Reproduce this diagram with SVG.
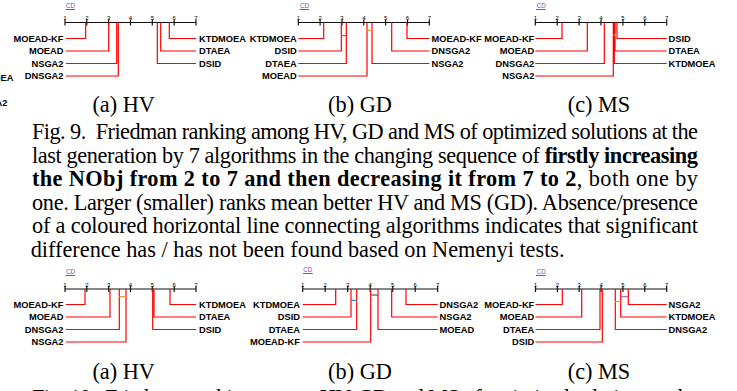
<svg xmlns="http://www.w3.org/2000/svg" width="737" height="391" viewBox="0 0 737 391">
<style>
.lbl{font-family:"Liberation Sans",Arial,sans-serif;font-weight:bold;font-size:9.3px;fill:#000}
.end{text-anchor:end}
.tk{font-family:"Liberation Sans",Arial,sans-serif;font-size:6px;fill:#000;text-anchor:middle}
.cdt{font-family:"Liberation Sans",Arial,sans-serif;font-size:6.3px;fill:#8e44ad}
.cdl{stroke:#8e44ad;stroke-width:1}
.ax{stroke:#111;stroke-width:1.2;fill:none}
.ln{stroke:#ff0000;stroke-width:1.2;fill:none}
.cap{font-family:"Liberation Serif","Times New Roman",serif;font-size:22.3px;fill:#000}
.sub{text-anchor:middle}
.b{font-weight:bold}
</style>

<g id="hv-top">
<text class="cdt" x="66" y="8">CD</text><line class="cdl" x1="65.5" y1="9.5" x2="75" y2="9.5"/>
<path class="ax" d="M65,22.5H196M65,19.5V25.5M86.8,19.5V25.5M108.7,19.5V25.5M130.5,19.5V25.5M152.3,19.5V25.5M174.2,19.5V25.5M196,19.5V25.5"/>
<text class="tk" x="65" y="20">1</text><text class="tk" x="86.8" y="20">2</text><text class="tk" x="108.7" y="20">3</text><text class="tk" x="130.5" y="20">4</text><text class="tk" x="152.3" y="20">5</text><text class="tk" x="174.2" y="20">6</text><text class="tk" x="196" y="20">7</text>
<text class="lbl end" x="63.5" y="41.8">MOEAD-KF</text>
<text class="lbl end" x="63.5" y="54.3">MOEAD</text>
<text class="lbl end" x="63.5" y="66.8">NSGA2</text>
<text class="lbl end" x="63.5" y="79.3">DNSGA2</text>
<text class="lbl" x="199" y="41.8">KTDMOEA</text>
<text class="lbl" x="199" y="54.3">DTAEA</text>
<text class="lbl" x="199" y="66.8">DSID</text>
<text class="lbl end" x="13.5" y="80.5">KTDMOEA</text>
<text class="lbl end" x="7.5" y="106">DNSGA2</text>
</g>

<g id="gd-top">
<text class="cdt" x="300" y="8">CD</text><line class="cdl" x1="299.5" y1="9.5" x2="309" y2="9.5"/>
<path class="ax" d="M298.3,22.5H429.3M298.3,19.5V25.5M320.1,19.5V25.5M342,19.5V25.5M363.8,19.5V25.5M385.6,19.5V25.5M407.5,19.5V25.5M429.3,19.5V25.5"/>
<text class="tk" x="298.3" y="20">1</text><text class="tk" x="320.1" y="20">2</text><text class="tk" x="342" y="20">3</text><text class="tk" x="363.8" y="20">4</text><text class="tk" x="385.6" y="20">5</text><text class="tk" x="407.5" y="20">6</text><text class="tk" x="429.3" y="20">7</text>
<text class="lbl end" x="296.7" y="41.8">KTDMOEA</text>
<text class="lbl end" x="296.7" y="54.3">DSID</text>
<text class="lbl end" x="296.7" y="66.8">DTAEA</text>
<text class="lbl end" x="296.7" y="79.3">MOEAD</text>
<text class="lbl" x="431.5" y="41.8">MOEAD-KF</text>
<text class="lbl" x="431.5" y="54.3">DNSGA2</text>
<text class="lbl" x="431.5" y="66.8">NSGA2</text>
</g>

<g id="ms-top">
<text class="cdt" x="536.7" y="8">CD</text><line class="cdl" x1="536" y1="9.5" x2="545.5" y2="9.5"/>
<path class="ax" d="M535.3,22.5H666.7M535.3,19.5V25.5M557.2,19.5V25.5M579.1,19.5V25.5M601,19.5V25.5M622.9,19.5V25.5M644.8,19.5V25.5M666.7,19.5V25.5"/>
<text class="tk" x="535.3" y="20">1</text><text class="tk" x="557.2" y="20">2</text><text class="tk" x="579.1" y="20">3</text><text class="tk" x="601" y="20">4</text><text class="tk" x="622.9" y="20">5</text><text class="tk" x="644.8" y="20">6</text><text class="tk" x="666.7" y="20">7</text>
<text class="lbl end" x="534.3" y="41.8">MOEAD-KF</text>
<text class="lbl end" x="534.3" y="54.3">MOEAD</text>
<text class="lbl end" x="534.3" y="66.8">DNSGA2</text>
<text class="lbl end" x="534.3" y="79.3">NSGA2</text>
<text class="lbl" x="668.5" y="41.8">DSID</text>
<text class="lbl" x="668.5" y="54.3">DTAEA</text>
<text class="lbl" x="668.5" y="66.8">KTDMOEA</text>
</g>

<g id="hv-bottom">
<text class="cdt" x="66" y="274">CD</text><line class="cdl" x1="65.5" y1="275.5" x2="75" y2="275.5"/>
<path class="ax" d="M65,289H196M65,286V292M86.8,286V292M108.7,286V292M130.5,286V292M152.3,286V292M174.2,286V292M196,286V292"/>
<text class="tk" x="65" y="286.5">1</text><text class="tk" x="86.8" y="286.5">2</text><text class="tk" x="108.7" y="286.5">3</text><text class="tk" x="130.5" y="286.5">4</text><text class="tk" x="152.3" y="286.5">5</text><text class="tk" x="174.2" y="286.5">6</text><text class="tk" x="196" y="286.5">7</text>
<text class="lbl end" x="63.5" y="307.8">MOEAD-KF</text>
<text class="lbl end" x="63.5" y="320.3">MOEAD</text>
<text class="lbl end" x="63.5" y="332.8">DNSGA2</text>
<text class="lbl end" x="63.5" y="345.3">NSGA2</text>
<text class="lbl" x="199" y="307.8">KTDMOEA</text>
<text class="lbl" x="199" y="320.3">DTAEA</text>
<text class="lbl" x="199" y="332.8">DSID</text>
</g>

<g id="gd-bottom">
<text class="cdt" x="303.3" y="272">CD</text><line class="cdl" x1="303" y1="273.5" x2="312.7" y2="273.5"/>
<path class="ax" d="M302.7,289H437.7M302.7,286V292M325.2,286V292M347.7,286V292M370.2,286V292M392.7,286V292M415.2,286V292M437.7,286V292"/>
<text class="tk" x="302.7" y="286.5">1</text><text class="tk" x="325.2" y="286.5">2</text><text class="tk" x="347.7" y="286.5">3</text><text class="tk" x="370.2" y="286.5">4</text><text class="tk" x="392.7" y="286.5">5</text><text class="tk" x="415.2" y="286.5">6</text><text class="tk" x="437.7" y="286.5">7</text>
<text class="lbl end" x="300" y="307.8">KTDMOEA</text>
<text class="lbl end" x="300" y="320.3">DSID</text>
<text class="lbl end" x="300" y="332.8">DTAEA</text>
<text class="lbl end" x="300" y="345.3">MOEAD-KF</text>
<text class="lbl" x="439.5" y="307.8">DNSGA2</text>
<text class="lbl" x="439.5" y="320.3">NSGA2</text>
<text class="lbl" x="439.5" y="332.8">MOEAD</text>
</g>

<g id="ms-bottom">
<text class="cdt" x="536.7" y="274">CD</text><line class="cdl" x1="536" y1="275.5" x2="545.5" y2="275.5"/>
<path class="ax" d="M535.5,289H666.7M535.5,286V292M557.4,286V292M579.2,286V292M601.1,286V292M622.9,286V292M644.8,286V292M666.7,286V292"/>
<text class="tk" x="535.5" y="286.5">1</text><text class="tk" x="557.4" y="286.5">2</text><text class="tk" x="579.2" y="286.5">3</text><text class="tk" x="601.1" y="286.5">4</text><text class="tk" x="622.9" y="286.5">5</text><text class="tk" x="644.8" y="286.5">6</text><text class="tk" x="666.7" y="286.5">7</text>
<text class="lbl end" x="534.3" y="307.8">MOEAD-KF</text>
<text class="lbl end" x="534.3" y="320.3">MOEAD</text>
<text class="lbl end" x="534.3" y="332.8">DTAEA</text>
<text class="lbl end" x="534.3" y="345.3">DSID</text>
<text class="lbl" x="668.5" y="307.8">NSGA2</text>
<text class="lbl" x="668.5" y="320.3">KTDMOEA</text>
<text class="lbl" x="668.5" y="332.8">DNSGA2</text>
</g>

<g id="connectors">
<path class="ln" d="M85.7,22.5V38.5H66M108.7,22.5V51H66M116.7,22.5V63.5H66M118.3,22.5V76H66M169.3,22.5V38.5H196M160.7,22.5V51H196M157.3,22.5V63.5H196"/>
<path class="ln" d="M323.7,22.5V38.5H298.3M341.3,22.5V51H298.3M346.3,22.5V63.5H298.3M367,22.5V76H298.3M407,22.5V38.5H429.3M391.7,22.5V51H429.3M372,22.5V63.5H429.3"/>
<path class="ln" d="M562,22.5V38.5H535.3M587.3,22.5V51H535.3M604.3,22.5V63.5H535.3M613.3,22.5V76H535.3M617,22.5V38.5H666.7M615,22.5V51H666.7M614.3,22.5V63.5H666.7"/>
<path class="ln" d="M85,289V304.5H66M110,289V317H66M119.3,289V329.5H66M126,289V342H66M170,289V304.5H196M154,289V317H196M152.7,289V329.5H196"/>
<path class="ln" d="M335.7,289V304.5H302.7M351,289V317H302.7M356.7,289V329.5H302.7M370.7,289V342H302.7M406,289V304.5H437.7M391.7,289V317H437.7M378,289V329.5H437.7"/>
<path class="ln" d="M562.3,289V304.5H535.5M581.7,289V317H535.5M600,289V329.5H535.5M602.3,289V342H535.5M628.3,289V304.5H666.7M620.7,289V317H666.7M615.3,289V329.5H666.7"/>
<g stroke-width="1.2" fill="none">
<path stroke="#3a86d9" d="M341.3,35.7H346.3M351,300.3H356.7"/>
<path stroke="#f0a030" d="M367,30.3H372M613.3,35H617M119.3,296.7H126M615.3,301.7H620.7"/>
<path stroke="#555" d="M370.7,295H378"/>
<path stroke="#9b6bc0" d="M620.7,296.7H628.3"/>
</g>
</g>

<g id="captions">
<text class="cap sub" x="123.7" y="112">(a) HV</text>
<text class="cap sub" x="360" y="112">(b) GD</text>
<text class="cap sub" x="599" y="112">(c) MS</text>
<text class="cap sub" x="123.7" y="379">(a) HV</text>
<text class="cap sub" x="360" y="379">(b) GD</text>
<text class="cap sub" x="599" y="379">(c) MS</text>
<text class="cap" x="32" y="139" textLength="666" lengthAdjust="spacing" xml:space="preserve">Fig. 9.  Friedman ranking among HV, GD and MS of optimized solutions at the</text>
<text class="cap" x="32" y="162.5" textLength="666" lengthAdjust="spacing">last generation by 7 algorithms in the changing sequence of <tspan class="b">firstly increasing</tspan></text>
<text class="cap" x="32" y="186" textLength="666" lengthAdjust="spacing"><tspan class="b">the NObj from 2 to 7 and then decreasing it from 7 to 2</tspan>, both one by</text>
<text class="cap" x="32" y="209.5" textLength="666" lengthAdjust="spacing">one. Larger (smaller) ranks mean better HV and MS (GD). Absence/presence</text>
<text class="cap" x="32" y="233" textLength="666" lengthAdjust="spacing">of a coloured horizontal line connecting algorithms indicates that significant</text>
<text class="cap" x="30.7" y="256.5">difference has / has not been found based on Nemenyi tests.</text>
<text class="cap" x="32" y="405" textLength="666" lengthAdjust="spacing" xml:space="preserve">Fig. 10.  Friedman ranking among HV, GD and MS of optimized solutions at the</text>
</g>
</svg>
